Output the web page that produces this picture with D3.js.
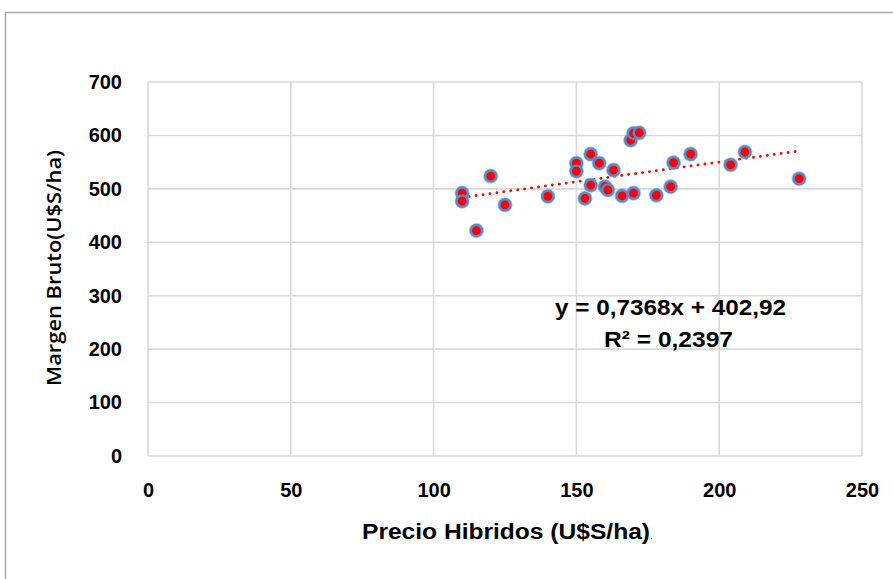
<!DOCTYPE html>
<html>
<head>
<meta charset="utf-8">
<script src="https://cdn.jsdelivr.net/npm/d3@7"></script>
<style>
  body { margin: 0; background: #fff; }
</style>
</head>
<body>
<div id="chart"></div>
<script>
// Precio hibridos (x) y margen bruto (y)
const precio = [110, 110, 115, 120, 125, 140, 150, 150, 153, 155, 155, 158, 160, 161, 163, 166,
  170, 169, 170, 172, 178, 183, 184, 190, 204, 209, 228];
const margen = [492, 477, 422, 524, 470, 486, 548, 533, 482, 565, 507, 548, 504, 498, 535, 487,
  492, 591, 604, 605, 488, 504, 549, 565, 545, 569, 519];

const xTicks = [0, 50, 100, 150, 200, 250];
const yTicks = [0, 100, 200, 300, 400, 500, 600, 700];

// linea de tendencia de Excel
const pendiente = 0.7368;
const intercepto = 402.92;
const r2 = "0,2397";

const data = precio.map((p, i) => ({ x: p, y: margen[i] }));

const W = 893, H = 579;
const margin = { top: 82, right: 31, bottom: 123, left: 148 };
const width = W - margin.left - margin.right;
const height = H - margin.top - margin.bottom;
const font = "Liberation Sans, Arial, sans-serif";

const svg = d3.select("#chart")
  .append("svg")
  .attr("width", W)
  .attr("height", H);

// marco del grafico (cortado a la derecha y abajo)
svg.append("rect")
  .attr("x", 5.5)
  .attr("y", 12.5)
  .attr("width", 1000)
  .attr("height", 1000)
  .attr("fill", "none")
  .attr("stroke", "#a6a6a6")
  .attr("stroke-width", 1.5);

const g = svg.append("g")
  .attr("transform", `translate(${margin.left},${margin.top})`);

const x = d3.scaleLinear().domain([0, 250]).range([0, width]);
const y = d3.scaleLinear().domain([0, 700]).range([height, 0]);

// grilla
g.selectAll(".hgrid")
  .data(yTicks)
  .enter()
  .append("line")
  .attr("x1", 0)
  .attr("x2", width)
  .attr("y1", d => y(d))
  .attr("y2", d => y(d))
  .attr("stroke", "#d9d9d9")
  .attr("stroke-width", 1.6);

g.selectAll(".vgrid")
  .data(xTicks)
  .enter()
  .append("line")
  .attr("x1", d => x(d))
  .attr("x2", d => x(d))
  .attr("y1", 0)
  .attr("y2", height)
  .attr("stroke", "#d9d9d9")
  .attr("stroke-width", 1.6);

// etiquetas de ejes
const yAxis = g.append("g")
  .call(d3.axisLeft(y).tickValues(yTicks).tickSize(0).tickPadding(26));
yAxis.select(".domain").remove();
yAxis.selectAll("text")
  .attr("font-family", font)
  .attr("font-weight", "bold")
  .attr("font-size", "20px")
  .attr("fill", "#000");

const xAxis = g.append("g")
  .attr("transform", `translate(0,${height})`)
  .call(d3.axisBottom(x).tickValues(xTicks).tickSize(0).tickPadding(27));
xAxis.select(".domain").remove();
xAxis.selectAll("text")
  .attr("font-family", font)
  .attr("font-weight", "bold")
  .attr("font-size", "20px")
  .attr("fill", "#000");

// titulos
const xt = g.append("text")
  .attr("x", 362 - margin.left)
  .attr("y", 539 - margin.top)
  .attr("font-family", font)
  .attr("font-weight", "bold")
  .attr("font-size", "22px");
xt.append("tspan")
  .attr("textLength", 288)
  .attr("lengthAdjust", "spacingAndGlyphs")
  .text("Precio Hibridos (U$S/ha)");
xt.append("tspan")
  .attr("font-size", "11px")
  .attr("font-weight", "normal")
  .text(".");

g.append("text")
  .attr("transform", `translate(${61 - margin.left},${height / 2 - 1}) rotate(-90)`)
  .attr("text-anchor", "middle")
  .attr("font-family", "Open Sans, sans-serif")
  .attr("font-weight", "600")
  .attr("font-size", "20px")
  .attr("textLength", 236)
  .attr("lengthAdjust", "spacingAndGlyphs")
  .text("Margen Bruto(U$S/ha)");

// linea de tendencia
const xMin = d3.min(precio), xMax = d3.max(precio);
g.append("line")
  .attr("x1", x(xMin))
  .attr("x2", x(xMax))
  .attr("y1", y(pendiente * xMin + intercepto))
  .attr("y2", y(pendiente * xMax + intercepto))
  .attr("stroke", "#ff0000")
  .attr("stroke-width", 2.8)
  .attr("stroke-linecap", "round")
  .attr("stroke-dasharray", "0.1 6.9");

// puntos
g.selectAll(".halo")
  .data(data)
  .enter()
  .append("circle")
  .attr("cx", d => x(d.x))
  .attr("cy", d => y(d.y))
  .attr("r", 7.6)
  .attr("fill", "#8fb4e0")
  .attr("opacity", 0.7);

g.selectAll(".pt")
  .data(data)
  .enter()
  .append("circle")
  .attr("cx", d => x(d.x))
  .attr("cy", d => y(d.y))
  .attr("r", 5.6)
  .attr("fill", "#ff0000")
  .attr("stroke", "#5a8ac6")
  .attr("stroke-width", 2.4);

// ecuacion
const eq = g.append("text")
  .attr("x", 555 - margin.left)
  .attr("y", 315 - margin.top)
  .attr("font-family", font)
  .attr("font-weight", "bold")
  .attr("font-size", "22px");
eq.append("tspan")
  .attr("textLength", 231)
  .attr("lengthAdjust", "spacingAndGlyphs")
  .text(`y = ${String(pendiente).replace(".", ",")}x + ${String(intercepto).replace(".", ",")}`);
eq.append("tspan")
  .attr("x", 604 - margin.left)
  .attr("dy", 32)
  .attr("textLength", 129)
  .attr("lengthAdjust", "spacingAndGlyphs")
  .text(`R² = ${r2}`);
</script>
</body>
</html>
